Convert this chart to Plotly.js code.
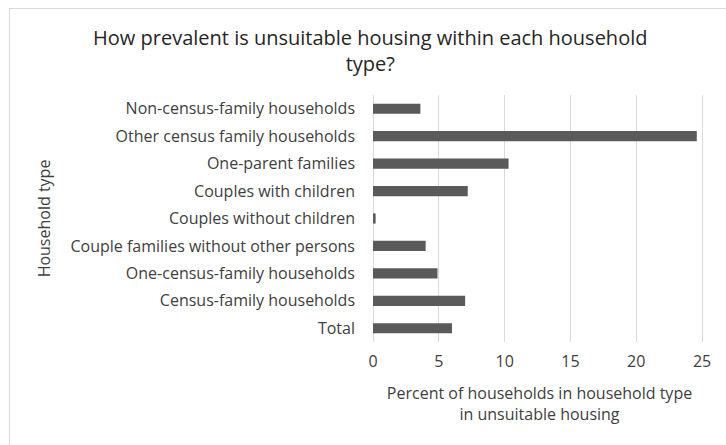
<!DOCTYPE html>
<html>
<head>
<meta charset="utf-8">
<script src="https://cdn.plot.ly/plotly-3.0.1.min.js"></script>
<style>
  html, body { margin: 0; padding: 0; background: #fff; }
  #wrap { position: relative; width: 726px; height: 445px; }
  #chart { width: 726px; height: 445px; }
  #frame { position: absolute; left: 9px; top: 8px; width: 730px; height: 450px;
           border: 1px solid #d9d9d9; pointer-events: none; box-sizing: border-box; }
</style>
</head>
<body>
<div id="wrap">
  <div id="chart"></div>
  <div id="frame"></div>
</div>
<script>
const categories = [
  "Non-census-family households",
  "Other census family households",
  "One-parent families",
  "Couples with children",
  "Couples without children",
  "Couple families without other persons",
  "One-census-family households",
  "Census-family households",
  "Total"
];
const percentUnsuitable = [3.6, 24.6, 10.3, 7.2, 0.2, 4.0, 4.9, 7.0, 6.0];
const xTicks = [0, 5, 10, 15, 20, 25];

const fontFamily = "'Open Sans', 'Noto Sans', sans-serif";

const trace = {
  type: "bar",
  orientation: "h",
  x: percentUnsuitable,
  y: categories,
  marker: { color: "#5a5a5a" },
  hoverinfo: "x+y"
};

const layout = {
  width: 726,
  height: 445,
  paper_bgcolor: "#ffffff",
  plot_bgcolor: "#ffffff",
  margin: { l: 373, r: 20, t: 95, b: 103 },
  bargap: 0.63,
  showlegend: false,
  font: { family: fontFamily, color: "#404040", size: 16 },
  title: {
    text: "How prevalent is unsuitable housing within each household<br>type?",
    font: { family: fontFamily, size: 20, color: "#262626" },
    x: 0.51, xref: "container", xanchor: "center",
    y: 0.898, yref: "container", yanchor: "top"
  },
  xaxis: {
    range: [0, 25.3],
    tickvals: xTicks,
    ticktext: xTicks.map(String),
    showgrid: true,
    gridcolor: "#d9d9d9",
    gridwidth: 1,
    zeroline: true,
    zerolinecolor: "#d9d9d9",
    showline: false,
    ticks: "",
    ticklabelstandoff: 8,
    tickfont: { size: 16, color: "#404040" },
    title: {
      text: "Percent of households in household type<br>in unsuitable housing",
      font: { size: 16, color: "#404040" },
      standoff: 16
    }
  },
  yaxis: {
    type: "category",
    autorange: "reversed",
    showgrid: false,
    zeroline: false,
    showline: false,
    ticks: "",
    ticklabelstandoff: 17,
    tickfont: { size: 16, color: "#404040" },
    title: {
      text: "Household type",
      font: { size: 16, color: "#404040" },
      standoff: 15
    }
  }
};

Plotly.newPlot("chart", [trace], layout, { displayModeBar: false });
</script>
</body>
</html>
